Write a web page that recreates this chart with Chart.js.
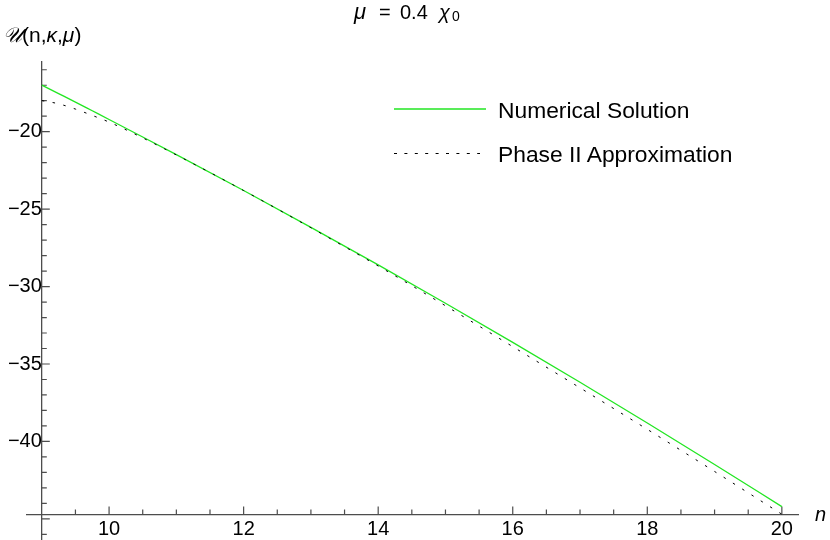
<!DOCTYPE html>
<html>
<head>
<meta charset="utf-8">
<script src="https://cdn.jsdelivr.net/npm/chart.js@4.4.0/dist/chart.umd.min.js"></script>
<style>
html,body{margin:0;padding:0;background:#fff;}
#wrap{position:relative;width:830px;height:540px;overflow:hidden;font-family:"Liberation Sans",Arial,sans-serif;color:#000;}
#c{position:absolute;left:0;top:0;}
.t{position:absolute;white-space:nowrap;line-height:1;}
</style>
</head>
<body>
<div id="wrap">
<canvas id="c" width="830" height="540"></canvas>
<div class="t" id="title" style="left:0;top:0;width:830px;height:30px;font-size:20px;">
  <span class="t" style="left:354px;top:1px;font-size:22px;font-style:italic;">μ</span>
  <span class="t" style="left:379px;top:2.4px;">=</span>
  <span class="t" style="left:400px;top:2.4px;">0.4</span>
  <span class="t" style="left:439px;top:2.4px;font-style:italic;">χ</span>
  <span class="t" style="left:452px;top:9px;font-size:14px;">0</span>
</div>
<div class="t" id="ylab" style="left:3px;top:24px;font-size:21px;"><span style="font-family:'DejaVu Sans';font-style:italic;">𝒰</span>(n,<i>κ</i>,<i>μ</i>)</div>
<div class="t" id="xlab" style="left:815px;top:504px;font-size:20px;"><i>n</i></div>
<div class="t" id="leg1" style="left:498px;top:99px;font-size:22.8px;">Numerical Solution</div>
<div class="t" id="leg2" style="left:498px;top:143px;font-size:22.8px;">Phase II Approximation</div>
</div>
<script>
// ---- data ----
const nValues = [9, 9.25, 9.5, 9.75, 10, 10.5, 11, 12, 13, 14, 15, 16, 17, 18, 19, 20];
const numericalSolution = [-16.99, -17.54, -18.09, -18.65, -19.21, -20.34, -21.48, -23.80, -26.18, -28.60, -31.08, -33.60, -36.18, -38.81, -41.49, -44.21];
const phaseIIApprox = [-17.99, -18.20, -18.54, -18.95, -19.38, -20.40, -21.50, -23.80, -26.20, -28.67, -31.24, -33.88, -36.54, -39.22, -41.94, -44.70];
const seriesLabels = ['Numerical Solution', 'Phase II Approximation'];
const xTickLabels = [10, 12, 14, 16, 18, 20];
const yTickLabels = [-20, -25, -30, -35, -40];
const xMajorTicks = [10, 12, 14, 16, 18, 20];
const yMajorTicks = [-20, -25, -30, -35, -40, -45];

// ---- style ----
const greenColor = '#22e622';
const axisColor = '#4d4d4d';
const xAxisCrossAt = -44.72;
const yAxisCrossAt = 9;

const xMinorTicks = [];
for (let k = 19; k <= 40; k++) { const v = k / 2; if (!xMajorTicks.includes(v)) xMinorTicks.push(v); }
const yMinorTicks = [];
for (let v = -46; v <= -16; v++) { if (!yMajorTicks.includes(v)) yMinorTicks.push(v); }

const fmt = v => (v < 0 ? '\u2212' + Math.abs(v) : String(v));

const decorPlugin = {
  id: 'decor',
  beforeDatasetsDraw(chart) {
    const {ctx, scales: {x, y}} = chart;
    const ax = x.getPixelForValue(yAxisCrossAt);
    const ay = y.getPixelForValue(xAxisCrossAt);
    ctx.save();
    ctx.strokeStyle = axisColor;
    ctx.lineWidth = 1.2;
    ctx.beginPath();
    const xt = (v, len) => { const p = x.getPixelForValue(v); ctx.moveTo(p, ay); ctx.lineTo(p, ay - len); };
    const yt = (v, len) => { const p = y.getPixelForValue(v); ctx.moveTo(ax, p); ctx.lineTo(ax + len, p); };
    xMajorTicks.forEach(v => xt(v, 8));
    xMinorTicks.forEach(v => xt(v, 5));
    yMajorTicks.forEach(v => yt(v, 8));
    yMinorTicks.forEach(v => yt(v, 5));
    ctx.stroke();
    ctx.restore();
  },
  afterDraw(chart) {
    const {ctx} = chart;
    const ds = chart.data.datasets;
    const rows = [{y: 109, x1: 394, x2: 486}, {y: 153.5, x1: 394, x2: 480}];
    ds.forEach((d) => {
      const r = rows[d.legendRow];
      ctx.save();
      ctx.strokeStyle = d.borderColor;
      ctx.lineWidth = d.borderWidth;
      ctx.setLineDash(d.legendDash || []);
      ctx.beginPath();
      ctx.moveTo(r.x1, r.y);
      ctx.lineTo(r.x2, r.y);
      ctx.stroke();
      ctx.restore();
    });
  }
};

new Chart(document.getElementById('c'), {
  type: 'line',
  data: {
    datasets: [
      {
        label: seriesLabels[1],
        data: nValues.map((n, i) => ({x: n, y: phaseIIApprox[i]})),
        borderColor: '#000000',
        borderWidth: 1,
        borderDash: [2.5, 8.5],
        legendDash: [3, 7.4],
        legendRow: 1,
        pointRadius: 0,
        cubicInterpolationMode: 'monotone',
        fill: false,
        order: 0
      },
      {
        label: seriesLabels[0],
        data: nValues.map((n, i) => ({x: n, y: numericalSolution[i]})),
        borderColor: greenColor,
        borderWidth: 1.3,
        legendRow: 0,
        pointRadius: 0,
        cubicInterpolationMode: 'monotone',
        fill: false,
        order: 1
      }
    ]
  },
  options: {
    responsive: false,
    animation: false,
    devicePixelRatio: 1,
    layout: {padding: {left: 27, right: 32, top: 62, bottom: 1}},
    plugins: {legend: {display: false}, tooltip: {enabled: false}, title: {display: false}},
    scales: {
      x: {
        type: 'linear',
        min: 8.78,
        max: 20.24,
        position: {y: xAxisCrossAt},
        afterBuildTicks: s => { s.ticks = xTickLabels.map(v => ({value: v})); },
        afterFit: s => { s.paddingLeft = 0; s.paddingRight = 0; s.paddingTop = 0; s.paddingBottom = 0; },
        grid: {display: false, drawTicks: false},
        border: {display: true, color: axisColor, width: 1.3},
        ticks: {
          autoSkip: false, maxRotation: 0, padding: 3, color: '#000',
          font: {family: '"Liberation Sans", Arial, sans-serif', size: 20},
          callback: v => fmt(v)
        }
      },
      y: {
        type: 'linear',
        min: -46.3,
        max: -15.5,
        position: {x: yAxisCrossAt},
        afterBuildTicks: s => { s.ticks = yTickLabels.map(v => ({value: v})); },
        afterFit: s => { s.paddingLeft = 0; s.paddingRight = 0; s.paddingTop = 0; s.paddingBottom = 0; },
        grid: {display: false, drawTicks: false},
        border: {display: true, color: axisColor, width: 1.3},
        ticks: {
          autoSkip: false, padding: 8, color: '#000',
          font: {family: '"Liberation Sans", Arial, sans-serif', size: 20},
          callback: v => fmt(v)
        }
      }
    }
  },
  plugins: [decorPlugin]
});
</script>
</body>
</html>
